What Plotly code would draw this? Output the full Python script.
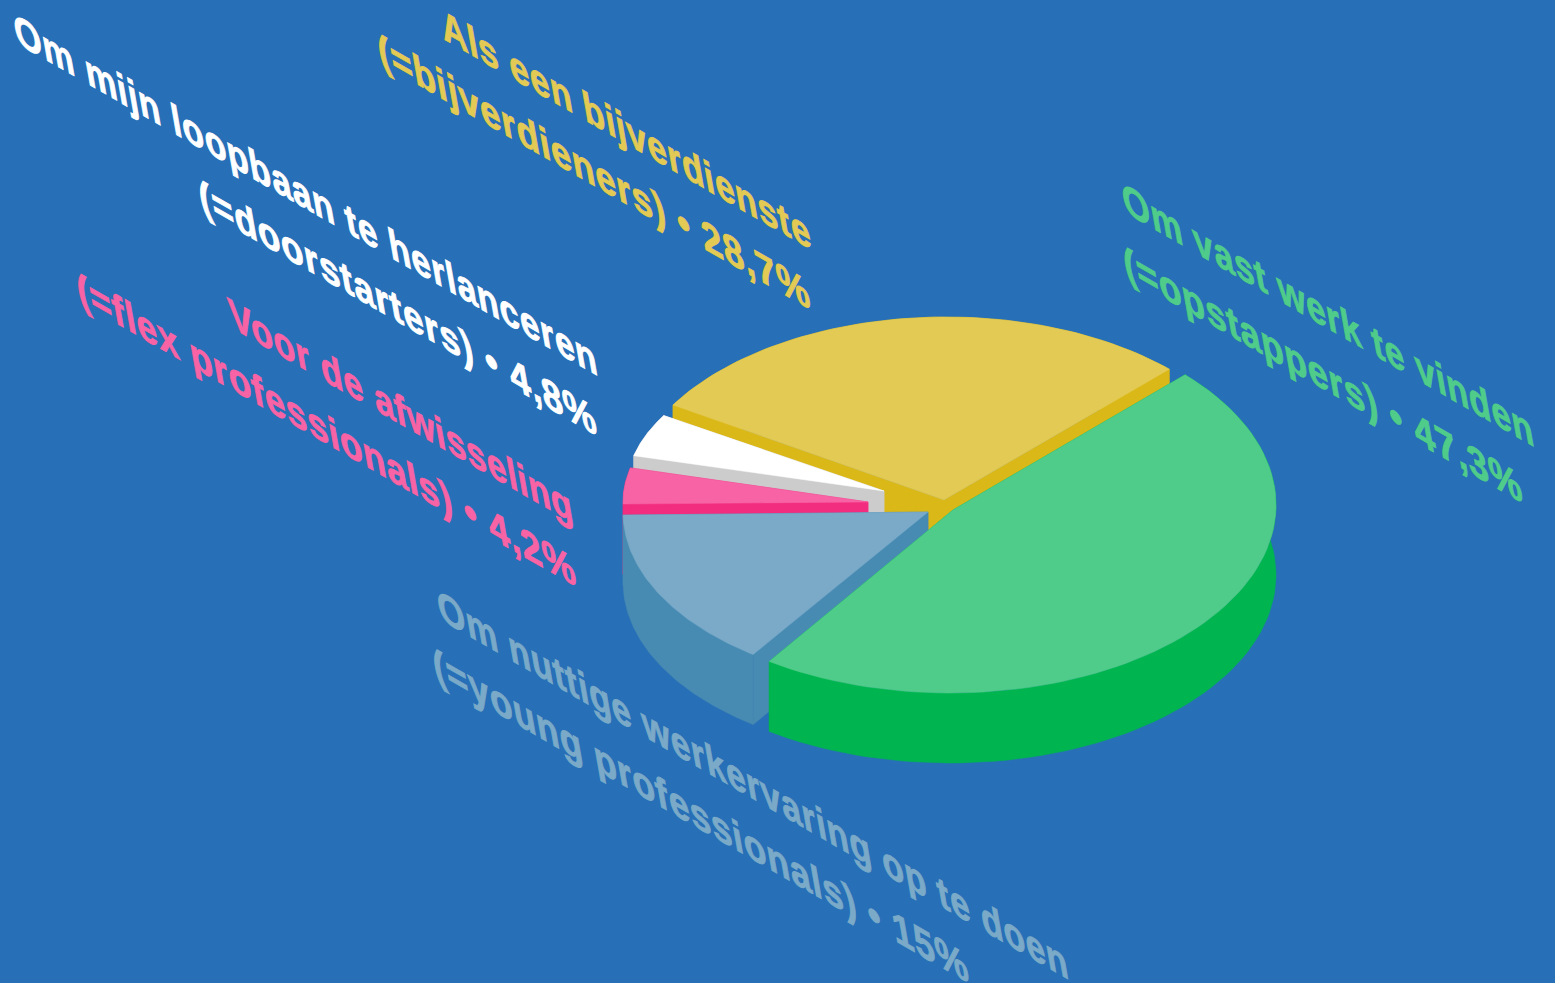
import math
import plotly.graph_objects as go

# Data
categories = ["Om vast werk te vinden", "Om nuttige werkervaring op te doen", "Voor de afwisseling",
              "Om mijn loopbaan te herlanceren", "Als een bijverdienste"]
shares = [47.3, 15.0, 4.2, 4.8, 28.7]
second_lines = ["(=opstappers) • 47,3%", "(=young professionals) • 15%", "(=flex professionals) • 4,2%",
                "(=doorstarters) • 4,8%", "(=bijverdieners) • 28,7%"]

# Style / layout
BG = "#276fb7"
top_colors = ["#50cc8a", "#7aaac8", "#f763a4", "#ffffff", "#e3ca54"]
side_colors = ["#00b550", "#478bb2", "#f22d7f", "#cccccc", "#dab818"]
label_colors = ["#50cc8a", "#7aaac8", "#f763a4", "#ffffff", "#e3ca54"]
apex = [(953, 510), (928, 512), (868, 502), (884, 491), (944, 500)]
ellipse_center = [(950, 505), (928, 512), (868, 502), (884, 491), (946, 501)]
radii = [(326, 188), (305, 174), (245, 140), (258, 145), (320, 184)]
draw_order = [4, 3, 2, 1, 0]
DEPTH = 70
START = 45.3
line1_pos = [(1328, 315), (753, 785), (401, 411), (305, 195), (626, 130)]
line2_pos = [(1323, 375), (700, 816), (326, 430), (397, 308), (594, 172)]
FONT = "Liberation Sans"
FONT_SIZE = 41
BASE_ANGLE = 29.8
STEM_TILT = 10
SCALE_X_LINE1 = 0.988
SCALE_X_LINE2 = 1.03
SCALE_Y = 1.1
LETTER_SPACING = 1
STROKE = 0.9

# Slice angles from shares (clockwise from START)
bounds = []
a = START
for s in shares:
    b = a - s * 3.6
    bounds.append((a, b))
    a = b


def rim(i, n=80):
    ax, ay = apex[i]
    ex, ey = ellipse_center[i]
    rx, ry = radii[i]
    a0, a1 = bounds[i]
    px, py = (ax - ex) / rx, (ay - ey) / ry
    pts = []
    for k in range(n + 1):
        t = math.radians(a0 + (a1 - a0) * k / n)
        ux, uy = math.cos(t), -math.sin(t)
        pu = px * ux + py * uy
        s = -pu + math.sqrt(pu * pu + 1 - px * px - py * py)
        pts.append((ax + rx * ux * s, ay + ry * uy * s))
    return pts


def poly(fig, pts, color):
    fig.add_trace(go.Scatter(
        x=[p[0] for p in pts] + [pts[0][0]],
        y=[p[1] for p in pts] + [pts[0][1]],
        mode="lines", fill="toself", fillcolor=color,
        line=dict(color=color, width=0.5), hoverinfo="skip", showlegend=False))


def down(p):
    return (p[0], p[1] + DEPTH)


fig = go.Figure()
for i in draw_order:
    r = rim(i)
    c = apex[i]
    side = side_colors[i]
    poly(fig, [c, r[0], down(r[0]), down(c)], side)
    poly(fig, [c, r[-1], down(r[-1]), down(c)], side)
    poly(fig, r + [down(p) for p in reversed(r)], side)
    poly(fig, [c] + r, top_colors[i])

line_scales = []
for i in range(len(categories)):
    for txt, pos, sc in ((categories[i], line1_pos[i], SCALE_X_LINE1),
                         (second_lines[i], line2_pos[i], SCALE_X_LINE2)):
        fig.add_annotation(x=pos[0], y=pos[1], text=txt, showarrow=False,
                           xanchor="center", yanchor="middle",
                           font=dict(family=FONT, size=FONT_SIZE, color=label_colors[i], weight=700))
        line_scales.append(sc)

fig.update_layout(
    width=1555, height=983, margin=dict(l=0, r=0, t=0, b=0),
    paper_bgcolor=BG, plot_bgcolor=BG, showlegend=False,
    xaxis=dict(range=[0, 1555], visible=False, fixedrange=True),
    yaxis=dict(range=[983, 0], visible=False, fixedrange=True),
)

cos_b, sin_b = math.cos(math.radians(BASE_ANGLE)), math.sin(math.radians(BASE_ANGLE))
mc = SCALE_Y * math.sin(math.radians(STEM_TILT))
md = SCALE_Y * math.cos(math.radians(STEM_TILT))
post = f"""
document.body.style.margin = '0';
document.body.style.background = '{BG}';
document.documentElement.style.overflow = 'hidden';
var scales = {line_scales};
document.querySelectorAll('text.annotation-text').forEach(function (t, k) {{
  t.style.letterSpacing = '{LETTER_SPACING}px';
  t.style.stroke = t.style.fill;
  t.style.strokeWidth = '{STROKE}px';
  var b = t.getBBox();
  var cx = b.x + b.width / 2, cy = b.y + b.height / 2;
  var sx = scales[k];
  t.setAttribute('transform',
    'translate(' + cx + ',' + cy + ') matrix(' + (sx * {cos_b:.5f}) + ',' + (sx * {sin_b:.5f}) + ',{mc:.5f},{md:.5f},0,0) translate(' + (-cx) + ',' + (-cy) + ')');
}});
"""
fig.write_html("out.html", post_script=post, config={"displayModeBar": False})
